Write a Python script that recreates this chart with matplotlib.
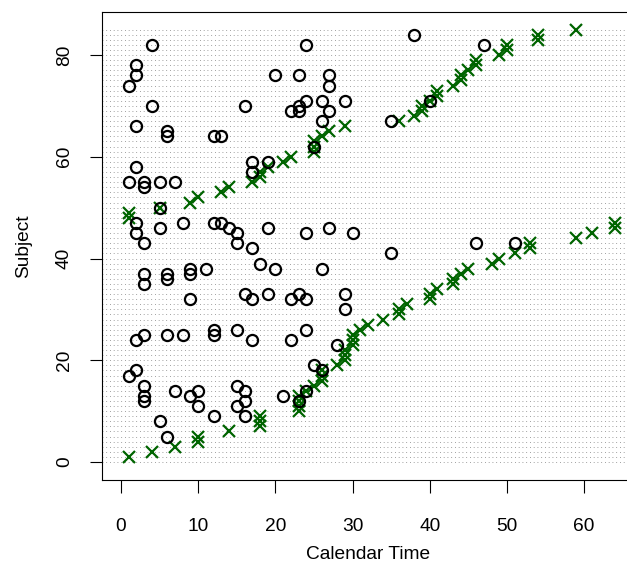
import matplotlib
matplotlib.use("Agg")
import matplotlib.pyplot as plt

plt.rcParams["font.family"] = ["Liberation Sans", "DejaVu Sans"]

# cross markers: (calendar time, subject)
cross_time = [1, 4, 7, 10, 10, 14, 18, 18, 18, 23, 23, 23, 23, 24, 25, 26, 26, 26,
              28, 29, 29, 29, 30, 30, 30, 31, 32, 34, 36, 36, 37, 40, 40, 41, 43, 43,
              44, 45, 48, 49, 51, 53, 53, 59, 61, 64, 64,
              1, 1, 5, 9, 10, 13, 14, 17, 18, 18, 19, 21, 22, 25, 25, 25, 26, 27, 29,
              36, 38, 39, 39, 40, 41, 41, 43, 44, 44, 45, 46, 46, 49, 50, 50, 54, 54, 59]
cross_subj = list(range(1, 86))

# circle markers: (calendar time, subject)
circle_time = [6, 5, 12, 16, 10, 15, 3, 16, 23, 3, 9, 21, 7, 10, 16, 24, 3, 15, 1, 2,
               26, 25, 28, 2, 17, 22, 3, 6, 8, 12, 12, 15, 24, 29, 9, 17, 22, 24, 3, 16,
               19, 23, 29, 6, 3, 6, 9, 9, 11, 20, 26, 18, 35, 17, 3, 15, 46, 51, 2, 15,
               24, 30, 5, 14, 19, 27, 2, 8, 12, 13,
               5, 3, 1, 3, 5, 7, 17, 2, 17, 19, 6, 12, 13, 6, 2, 26, 35, 22, 23, 27,
               23, 4, 16, 24, 26, 29, 40, 1, 27, 2, 20, 23, 27, 2, 4, 24, 47, 38, 25]
circle_subj = [5, 8, 9, 9, 11, 11, 12, 12, 12, 13, 13, 13, 14, 14, 14, 14, 15, 15, 17, 18,
               18, 19, 23, 24, 24, 24, 25, 25, 25, 25, 26, 26, 26, 30, 32, 32, 32, 32, 35, 33,
               33, 33, 33, 36, 37, 37, 37, 38, 38, 38, 38, 39, 41, 42, 43, 43, 43, 43, 45, 45,
               45, 45, 46, 46, 46, 46, 47, 47, 47, 47,
               50, 54, 55, 55, 55, 55, 57, 58, 59, 59, 64, 64, 64, 65, 66, 67, 67, 69, 69, 69,
               70, 70, 70, 71, 71, 71, 71, 74, 74, 76, 76, 76, 76, 78, 82, 82, 82, 84, 62]

x_ticks = [0, 10, 20, 30, 40, 50, 60]
y_ticks = [0, 20, 40, 60, 80]

fig = plt.figure(figsize=(6.27, 5.66), dpi=100)
ax = fig.add_axes([0.1627, 0.1519, 0.850, 0.8269])

# dotted guide line for every subject
for s in range(0, 86):
    ax.axhline(s, color="0.5", lw=0.6, ls=(0, (1, 3.5)), zorder=0)

ax.plot(cross_time, cross_subj, ls="none", marker="x", ms=8, mew=1.6,
        color="#006400", zorder=2)
ax.plot(circle_time, circle_subj, ls="none", marker="o", ms=8, mew=1.6,
        mfc="none", mec="black", zorder=3)

ax.set_xlim(-2.46, 66.58)
ax.set_ylim(-3.54, 88.45)
ax.set_xticks(x_ticks)
ax.set_yticks(y_ticks)
ax.set_yticklabels([str(v) for v in y_ticks], rotation=90, va="center")
ax.tick_params(length=9, width=0.8, labelsize=13.8)
ax.tick_params(axis="x", pad=18)
ax.tick_params(axis="y", pad=12)
for sp in ax.spines.values():
    sp.set_linewidth(0.8)

ax.set_xlabel("Calendar Time", fontsize=13.8, labelpad=8)
ax.set_ylabel("Subject", fontsize=13.8, labelpad=17)

fig.savefig("out.png", dpi=100)
